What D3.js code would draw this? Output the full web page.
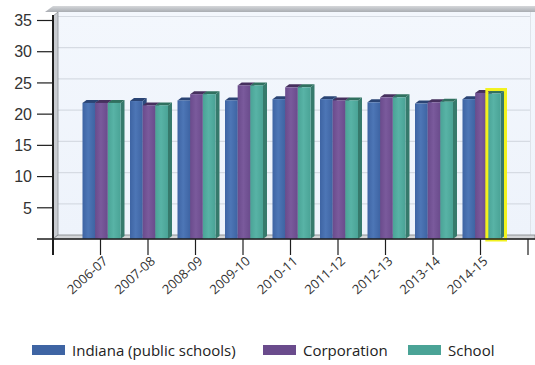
<!DOCTYPE html>
<html>
<head>
<meta charset="utf-8">
<script src="https://cdn.jsdelivr.net/npm/d3@7"></script>
<style>
  html, body { margin: 0; padding: 0; background: #ffffff; }
  svg { display: block; font-family: "Liberation Sans", Arial, sans-serif; }
  .lbl { font-family: "Open Sans", "Noto Sans", sans-serif; }
</style>
</head>
<body>
<svg id="chart" width="535" height="365"></svg>
<script>
// Average class size by school year
const categories = ["2006-07", "2007-08", "2008-09", "2009-10", "2010-11",
                    "2011-12", "2012-13", "2013-14", "2014-15"];
const indiana     = [21.8, 22.1, 22.2, 22.2, 22.4, 22.4, 21.9, 21.7, 22.4];
const corporation = [21.8, 21.4, 23.2, 24.6, 24.3, 22.2, 22.7, 21.9, 23.4];
const school      = [21.8, 21.4, 23.2, 24.6, 24.3, 22.2, 22.7, 22.0, 23.3];
const seriesNames = ["Indiana (public schools)", "Corporation", "School"];
const yTicks = [5, 10, 15, 20, 25, 30, 35];

const seriesValues = [indiana, corporation, school];
const colors = {
  "Indiana (public schools)": { front: "#3e64a3", light: "#4d76b6", side: "#2d4b7d", top: "#2a4474" },
  "Corporation":              { front: "#6a4b8c", light: "#7a5a9c", side: "#4e3569", top: "#46305e" },
  "School":                   { front: "#4aa396", light: "#58b3a6", side: "#367a6c", top: "#30705f" }
};
const highlight = { category: "2014-15", series: "School" };

const svg = d3.select("#chart");
const defs = svg.append("defs");

// Plot geometry
const x0 = 53, x1 = 528;           // front axis extent
const wallDx = 5, wallDy = 4;      // depth of the back wall
const barDx = 4, barDy = 3;        // depth of each bar

const y = d3.scaleLinear().domain([0, 35]).range([239, 20.5]);
const xPos = d3.scaleLinear().domain([0, categories.length + 1]).range([x0, x1]);
const xInner = d3.scaleBand().domain(seriesNames).range([-18, 20]);

// Gradients
const wallGrad = defs.append("linearGradient").attr("id", "wall")
  .attr("x1", 0).attr("y1", 0).attr("x2", 0).attr("y2", 1);
wallGrad.append("stop").attr("offset", "0%").attr("stop-color", "#f3f7fd");
wallGrad.append("stop").attr("offset", "100%").attr("stop-color", "#eef3fb");

const ceilGrad = defs.append("linearGradient").attr("id", "ceil")
  .attr("x1", 0).attr("y1", 0).attr("x2", 0).attr("y2", 1);
ceilGrad.append("stop").attr("offset", "0%").attr("stop-color", "#d5d7da");
ceilGrad.append("stop").attr("offset", "100%").attr("stop-color", "#a9adb3");

seriesNames.forEach((s, i) => {
  const g = defs.append("linearGradient").attr("id", "bar" + i)
    .attr("x1", 0).attr("y1", 0).attr("x2", 1).attr("y2", 0);
  g.append("stop").attr("offset", "0%").attr("stop-color", colors[s].front);
  g.append("stop").attr("offset", "45%").attr("stop-color", colors[s].light);
  g.append("stop").attr("offset", "100%").attr("stop-color", colors[s].front);
});

// Back wall
svg.append("rect")
  .attr("x", x0 + wallDx).attr("y", 12)
  .attr("width", 535 - x0 - wallDx).attr("height", y(0) - wallDy - 12)
  .attr("fill", "url(#wall)");

// Ceiling band
svg.append("polygon")
  .attr("points", [[45, 12], [53, 6], [535, 6], [535, 12]].map(p => p.join(",")).join(" "))
  .attr("fill", "url(#ceil)");

// Back-wall gridlines
svg.append("g").selectAll("line").data(yTicks).join("line")
  .attr("x1", x0 + wallDx).attr("x2", 530)
  .attr("y1", d => y(d) - wallDy).attr("y2", d => y(d) - wallDy)
  .attr("stroke", "#d6dbe3").attr("stroke-width", 1.2);

// Right edge of the wall
svg.append("line")
  .attr("x1", 530.5).attr("x2", 530.5).attr("y1", 12).attr("y2", y(0) - wallDy)
  .attr("stroke", "#dfe3ea");

// Left wall
svg.append("polygon")
  .attr("points", [[x0, 16], [x0 + wallDx, 12], [x0 + wallDx, y(0) - wallDy], [x0, y(0)]]
    .map(p => p.join(",")).join(" "))
  .attr("fill", "#c9ccd1").attr("stroke", "#8e9297").attr("stroke-width", 0.8);

// Floor
svg.append("polygon")
  .attr("points", [[x0, y(0)], [x0 + wallDx, y(0) - wallDy], [535, y(0) - wallDy], [535, y(0)]]
    .map(p => p.join(",")).join(" "))
  .attr("fill", "#d3d5d8").attr("stroke", "#7d8186").attr("stroke-width", 0.8);

// Bars
const barsG = svg.append("g");
categories.forEach((cat, ci) => {
  const cx = xPos(ci + 1);
  seriesNames.forEach((s, si) => {
    const v = seriesValues[si][ci];
    const bx = cx + xInner(s);
    const bw = xInner.bandwidth();
    const top = y(v), base = y(0);
    const g = barsG.append("g");
    g.append("polygon")
      .attr("points", [[bx + bw, top], [bx + bw + barDx, top - barDy], [bx + bw + barDx, base - barDy], [bx + bw, base]]
        .map(p => p.join(",")).join(" "))
      .attr("fill", colors[s].side);
    g.append("polygon")
      .attr("points", [[bx, top], [bx + barDx, top - barDy], [bx + bw + barDx, top - barDy], [bx + bw, top]]
        .map(p => p.join(",")).join(" "))
      .attr("fill", colors[s].top);
    g.append("rect")
      .attr("x", bx).attr("y", top).attr("width", bw).attr("height", base - top)
      .attr("fill", "url(#bar" + si + ")");
    if (cat === highlight.category && s === highlight.series) {
      g.append("rect")
        .attr("x", bx - 1).attr("y", top - barDy - 1)
        .attr("width", bw + barDx + 2).attr("height", base - top + barDy + 2)
        .attr("fill", "none").attr("stroke", "#f2f21e").attr("stroke-width", 3);
    }
  });
});

// Y axis
const axisColor = "#1e1e1e";
svg.append("line")
  .attr("x1", x0).attr("x2", x0).attr("y1", 15).attr("y2", 255)
  .attr("stroke", axisColor).attr("stroke-width", 2);
const yAxis = svg.append("g");
yAxis.selectAll("line").data(yTicks).join("line")
  .attr("x1", 37).attr("x2", x0).attr("y1", d => y(d)).attr("y2", d => y(d))
  .attr("stroke", axisColor).attr("stroke-width", 1.2);
yAxis.selectAll("text").data(yTicks).join("text")
  .attr("x", 32).attr("y", d => y(d)).attr("dy", "0.36em")
  .attr("text-anchor", "end").attr("font-size", 16).attr("fill", "#333")
  .text(d => d);

// X axis
svg.append("line")
  .attr("x1", 37).attr("x2", 535).attr("y1", y(0)).attr("y2", y(0))
  .attr("stroke", axisColor).attr("stroke-width", 1.5);
const xTickVals = d3.range(0, categories.length + 2);
svg.append("g").selectAll("line").data(xTickVals).join("line")
  .attr("x1", d => xPos(d)).attr("x2", d => xPos(d))
  .attr("y1", y(0)).attr("y2", 255)
  .attr("stroke", axisColor).attr("stroke-width", 1.2);
svg.append("g").selectAll("text").data(categories).join("text")
  .attr("class", "lbl")
  .attr("transform", (d, i) => `translate(${xPos(i + 1) + 5},${259}) rotate(-42)`)
  .attr("text-anchor", "end").attr("dy", "0.35em")
  .attr("font-size", 13).attr("fill", "#333")
  .text(d => d);

// Legend
const legendItems = [
  { name: seriesNames[0], x: 32 },
  { name: seriesNames[1], x: 263 },
  { name: seriesNames[2], x: 408 }
];
const legend = svg.append("g");
legendItems.forEach(item => {
  legend.append("rect")
    .attr("x", item.x).attr("y", 345).attr("width", 33).attr("height", 10)
    .attr("fill", colors[item.name].front);
  legend.append("text")
    .attr("class", "lbl")
    .attr("x", item.x + 40).attr("y", 356)
    .attr("font-size", 15).attr("fill", "#222")
    .text(item.name);
});
</script>
</body>
</html>
